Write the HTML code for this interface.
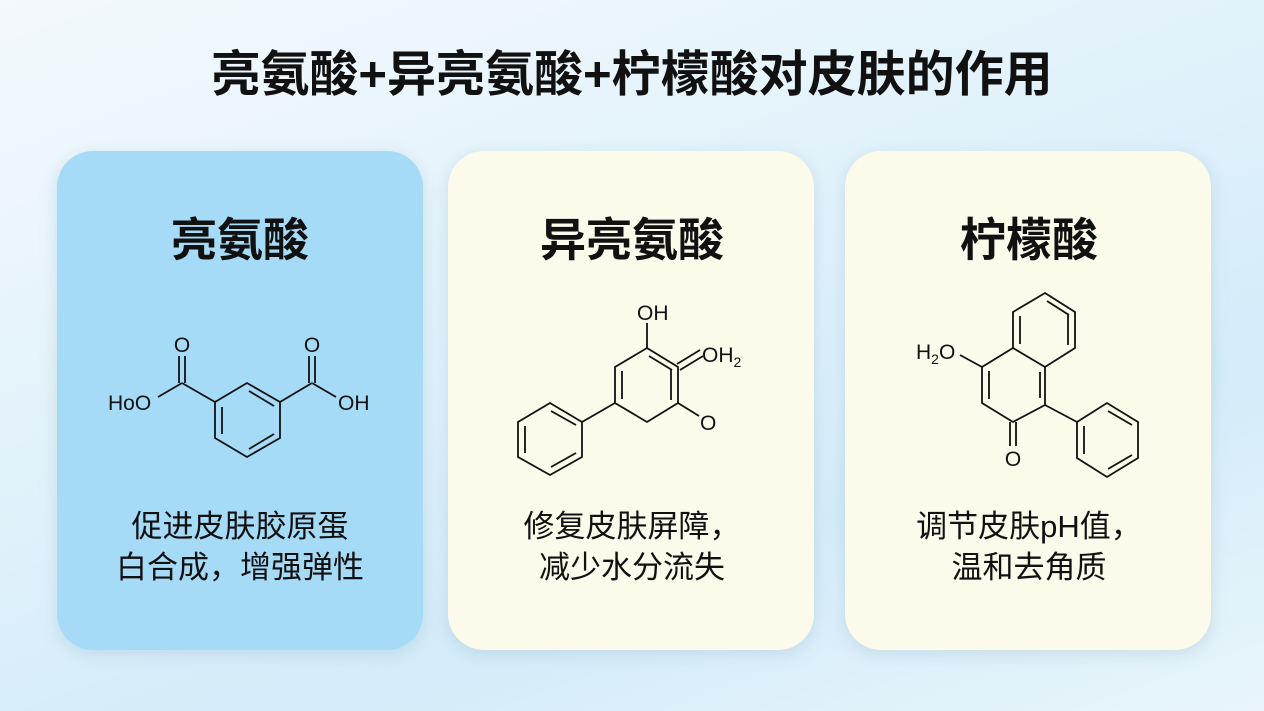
<!DOCTYPE html>
<html><head><meta charset="utf-8"><style>
body{margin:0;width:1264px;height:711px;overflow:hidden;background:linear-gradient(160deg,#f3f9fc 0%,#e2f2fb 40%,#d3ecf9 70%,#e9f5fb 100%);font-family:"Liberation Sans","Noto Sans CJK SC",sans-serif;position:relative}
.t{position:absolute;left:0;width:1264px;top:44px;text-align:center;font-size:49px;font-weight:bold;color:#111;line-height:62px}
.c{position:absolute;top:151px;width:366px;height:499px;border-radius:36px;box-shadow:0 4px 16px rgba(150,180,200,.35)}
.h{position:absolute;top:209px;text-align:center;font-size:46px;font-weight:bold;color:#111;line-height:62px}
.d{position:absolute;top:506px;text-align:center;font-size:31px;color:#111;line-height:41px}
svg{position:absolute;left:0;top:0}
</style></head><body>
<div class="t">亮氨酸+异亮氨酸+柠檬酸对皮肤的作用</div>
<div class="c" style="left:57px;background:#a5dbf7"></div>
<div class="c" style="left:448px;background:#fcfaeb"></div>
<div class="c" style="left:845px;background:#fcfaeb"></div>
<div class="h" style="left:57px;width:366px">亮氨酸</div>
<div class="h" style="left:448px;width:368px">异亮氨酸</div>
<div class="h" style="left:845px;width:368px">柠檬酸</div>
<div class="d" style="left:57px;width:366px">促进皮肤胶原蛋<br>白合成，增强弹性</div>
<div class="d" style="left:448px;width:368px">修复皮肤屏障，<br>减少水分流失</div>
<div class="d" style="left:845px;width:368px">调节皮肤pH值，<br>温和去角质</div>
<svg width="1264" height="711" stroke="#111" stroke-width="1.8" fill="none" font-family="Liberation Sans, sans-serif" font-size="21">
<polygon points="247,383 280,402 280,438 247,457 215,438 215,402"/>
<line x1="222" y1="407" x2="222" y2="434"/><line x1="249" y1="391" x2="274" y2="406"/><line x1="249" y1="449" x2="274" y2="434"/>
<line x1="215" y1="402" x2="182" y2="383"/><line x1="182" y1="383" x2="158" y2="397"/>
<line x1="179" y1="383" x2="179" y2="356"/><line x1="185" y1="383" x2="185" y2="356"/>
<line x1="280" y1="402" x2="312" y2="383"/><line x1="312" y1="383" x2="336" y2="397"/>
<line x1="309" y1="383" x2="309" y2="356"/><line x1="315" y1="383" x2="315" y2="356"/>
<g fill="#111" stroke="none"><text x="182" y="352" text-anchor="middle">O</text><text x="312" y="352" text-anchor="middle">O</text>
<text x="108" y="410">HoO</text><text x="338" y="410">OH</text></g>
<polygon points="647,348 678,367 678,403 647,422 615,403 615,367"/>
<line x1="622" y1="371" x2="622" y2="399"/><line x1="649" y1="356" x2="672" y2="370"/><line x1="671" y1="370" x2="671" y2="400"/>
<line x1="647" y1="348" x2="647" y2="323"/>
<line x1="677" y1="364" x2="700" y2="350"/><line x1="680" y1="370" x2="703" y2="356"/>
<line x1="678" y1="403" x2="699" y2="416"/>
<line x1="615" y1="403" x2="582" y2="422"/>
<polygon points="582,422 550,403 518,422 518,457 550,475 582,457"/>
<line x1="525" y1="426" x2="525" y2="453"/><line x1="551" y1="411" x2="576" y2="425"/><line x1="551" y1="467" x2="576" y2="453"/>
<g fill="#111" stroke="none"><text x="637" y="320">OH</text><text x="702" y="362">OH<tspan font-size="14" dy="5">2</tspan></text><text x="700" y="430">O</text></g>
<polygon points="1045,293 1075,312 1075,348 1045,367 1013,348 1013,312"/>
<line x1="1020" y1="316" x2="1020" y2="344"/><line x1="1047" y1="301" x2="1069" y2="315"/><line x1="1068" y1="315" x2="1068" y2="345"/>
<polyline points="1013,348 982,367 982,403 1013,422 1045,405 1045,367"/>
<line x1="989" y1="371" x2="989" y2="399"/><line x1="1040" y1="398" x2="1040" y2="372"/>
<line x1="982" y1="367" x2="960" y2="355"/>
<line x1="1010" y1="422" x2="1010" y2="446"/><line x1="1016" y1="422" x2="1016" y2="446"/>
<line x1="1045" y1="405" x2="1077" y2="422"/>
<polygon points="1077,422 1107,403 1138,422 1138,458 1107,477 1077,458"/>
<line x1="1084" y1="426" x2="1084" y2="454"/><line x1="1108" y1="411" x2="1132" y2="425"/><line x1="1108" y1="469" x2="1132" y2="455"/>
<g fill="#111" stroke="none"><text x="916" y="359">H<tspan font-size="14" dy="5">2</tspan><tspan dy="-5">O</tspan></text><text x="1013" y="466" text-anchor="middle">O</text></g>
</svg>
</body></html>
